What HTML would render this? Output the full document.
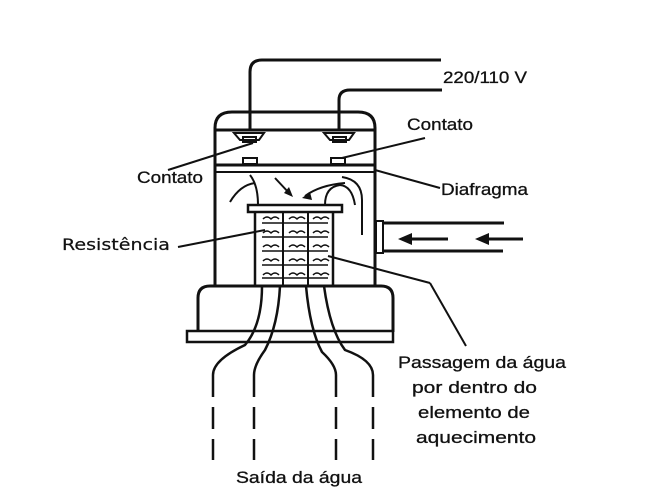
<!DOCTYPE html>
<html><head><meta charset="utf-8"><style>
html,body{margin:0;padding:0;background:#fff;}
svg{display:block}
text{font-family:"Liberation Sans",sans-serif;font-size:17px;fill:#111;stroke:#111;stroke-width:0.3}
</style></head><body>
<svg width="650" height="504" viewBox="0 0 650 504" xmlns="http://www.w3.org/2000/svg">
<rect width="650" height="504" fill="#fff"/>
<g fill="none" stroke="#111" stroke-width="3">
<path d="M250 130 V72 Q250 60 262 60 H441"/>
<path d="M339 130 V100 Q339 90 350 90 H442"/>
<path d="M215 165 V128 Q215 112 232 112 H358 Q375 112 375 128 V165"/>
<line x1="215" y1="130" x2="375" y2="130"/>
<line x1="215" y1="165" x2="375" y2="165"/>
<line x1="215" y1="172" x2="375" y2="172" stroke-width="2"/>
<path d="M215 165 V286 M375 165 V286"/>
<path d="M198 332 V298 Q198 286 210 286 H381 Q393 286 393 298 V332"/>
<rect x="187" y="331" width="206" height="11" stroke-width="2.5"/>
<path d="M234 133 H264 L259 140 H240 Z" stroke-width="2"/>
<rect x="243" y="137" width="13" height="5" stroke-width="2"/>
<path d="M324 133 H354 L349 140 H330 Z" stroke-width="2"/>
<rect x="333" y="137" width="13" height="5" stroke-width="2"/>
<rect x="243" y="158" width="14" height="6" stroke-width="2"/>
<rect x="331" y="158" width="14" height="6" stroke-width="2"/>
<path d="M230 202 Q240 185 255 183" stroke-width="2"/>
<path d="M250 175 Q258 185 258 205" stroke-width="2"/>
<path d="M275 178 L290 194" stroke-width="2"/>
<path d="M305 196 Q320 185 345 183" stroke-width="2"/>
<path d="M325 205 Q325 187 340 185 Q352 186 355 205" stroke-width="2"/>
<path d="M342 177 Q362 180 362 200 V235" stroke-width="2"/>
<rect x="248" y="205" width="94" height="7" stroke-width="2.5"/>
<path d="M255 212 V286 M333 212 V286" stroke-width="2.5"/>
<path d="M283 212 V286 M308 212 V286" stroke-width="2"/>
<path d="M262 223 H328 M262 237 H328 M262 251 H328 M262 265 H328 M262 278 H328" stroke-width="1.5"/>
<path d="M263 219 q4 -4 8 0 q4 -4 8 0 M289 219 q4 -4 8 0 q4 -4 8 0 M313 219 q4 -4 8 0 q4 -4 8 0 M263 233 q4 -4 8 0 q4 -4 8 0 M289 233 q4 -4 8 0 q4 -4 8 0 M313 233 q4 -4 8 0 q4 -4 8 0 M263 247 q4 -4 8 0 q4 -4 8 0 M289 247 q4 -4 8 0 q4 -4 8 0 M313 247 q4 -4 8 0 q4 -4 8 0 M263 261 q4 -4 8 0 q4 -4 8 0 M289 261 q4 -4 8 0 q4 -4 8 0 M313 261 q4 -4 8 0 q4 -4 8 0 M263 275 q4 -4 8 0 q4 -4 8 0 M289 275 q4 -4 8 0 q4 -4 8 0 M313 275 q4 -4 8 0 q4 -4 8 0" stroke-width="1.5"/>
<rect x="376" y="221" width="7" height="32" stroke-width="2"/>
<line x1="383" y1="223" x2="504" y2="223"/>
<line x1="383" y1="251" x2="503" y2="251"/>
<line x1="410" y1="239" x2="448" y2="239"/>
<line x1="487" y1="239" x2="523" y2="239"/>
<path d="M262 286 Q262 325 245 345 Q213 360 213 375" stroke-width="2.5"/>
<path d="M280 286 Q278 325 265 350 Q254 365 254 375" stroke-width="2.5"/>
<path d="M306 286 Q310 330 322 352 Q336 365 336 375" stroke-width="2.5"/>
<path d="M324 286 Q330 330 345 350 Q373 360 373 375" stroke-width="2.5"/>
<path d="M213 375 V460 M254 375 V460 M336 375 V460 M373 375 V460" stroke-width="2.5" stroke-dasharray="22 10"/>
<line x1="168" y1="170" x2="253" y2="143" stroke-width="2"/>
<line x1="425" y1="138" x2="342" y2="158" stroke-width="2"/>
<line x1="375" y1="170" x2="440" y2="188" stroke-width="2"/>
<line x1="178" y1="247" x2="265" y2="230" stroke-width="2"/>
<line x1="328" y1="256" x2="430" y2="283" stroke-width="2"/>
<line x1="430" y1="283" x2="466" y2="346" stroke-width="2"/>
</g>
<g fill="#111">
<polygon points="398,239 412,233 412,245"/>
<polygon points="475,239 489,233 489,245"/>
<polygon points="293,197 284,193 289,187"/>
<polygon points="302,198 310,192 312,200"/>
</g>
<text x="443" y="83" textLength="84" lengthAdjust="spacingAndGlyphs">220/110 V</text>
<text x="407" y="130" textLength="66" lengthAdjust="spacingAndGlyphs">Contato</text>
<text x="137" y="183" textLength="66" lengthAdjust="spacingAndGlyphs">Contato</text>
<text x="441" y="195" textLength="87" lengthAdjust="spacingAndGlyphs">Diafragma</text>
<text x="62" y="250" style="font-family:'DejaVu Sans',sans-serif;font-size:16px;stroke-width:0.2" textLength="108" lengthAdjust="spacingAndGlyphs">Resistência</text>
<text x="398" y="368" textLength="168" lengthAdjust="spacingAndGlyphs">Passagem da água</text>
<text x="412" y="393" textLength="125" lengthAdjust="spacingAndGlyphs">por dentro do</text>
<text x="418" y="418" textLength="112" lengthAdjust="spacingAndGlyphs">elemento de</text>
<text x="416" y="443" textLength="120" lengthAdjust="spacingAndGlyphs">aquecimento</text>
<text x="236" y="483" textLength="126" lengthAdjust="spacingAndGlyphs">Saída da água</text>
</svg>
</body></html>
